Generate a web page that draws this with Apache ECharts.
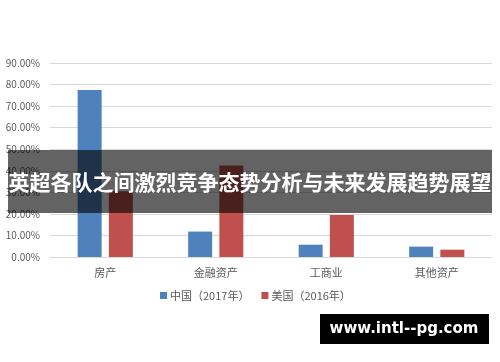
<!DOCTYPE html>
<html><head><meta charset="utf-8">
<script src="https://cdn.jsdelivr.net/npm/echarts@6/dist/echarts.min.js"></script>
<style>html,body{margin:0;padding:0;background:#fff}#c{width:500px;height:362px}</style>
</head><body><div id="c"></div>
<script>
const categories = ['房产', '金融资产', '工商业', '其他资产'];
const seriesNames = ['中国（2017年）', '美国（2016年）'];
const chinaValues = [0.775, 0.118, 0.057, 0.048];
const usValues = [0.305, 0.425, 0.195, 0.034];
const titleText = '英超各队之间激烈竞争态势分析与未来发展趋势展望';
const watermarkText = 'www.intl--pg.com';

const chart = echarts.init(document.getElementById('c'));
const font = '"Noto Sans CJK SC", "Noto Sans", sans-serif';
chart.setOption({
  animation: false,
  textStyle: { fontFamily: font },
  grid: { left: 50, right: 8, top: 63, bottom: 105, containLabel: false },
  legend: {
    top: 290, left: 160, padding: 0, itemWidth: 7, itemHeight: 7, itemGap: 12,
    icon: 'rect',
    textStyle: { fontSize: 11, color: '#595959', fontFamily: font, padding: [0, 0, 0, -2] },
    data: seriesNames
  },
  xAxis: {
    type: 'category', data: categories,
    axisLine: { lineStyle: { color: '#d9d9d9' } },
    axisTick: { show: false },
    axisLabel: { fontSize: 11, color: '#595959', margin: 10 }
  },
  yAxis: {
    type: 'value', min: 0, max: 0.9, interval: 0.1,
    axisLine: { show: false }, axisTick: { show: false },
    splitLine: { lineStyle: { color: '#d9d9d9', width: 1 } },
    axisLabel: { fontSize: 10, color: '#595959', margin: 10,
      formatter: v => (v * 100).toFixed(2) + '%' }
  },
  series: [
    { name: seriesNames[0], type: 'bar', data: chinaValues, barWidth: 24, barGap: '30%',
      itemStyle: { color: '#4f81bd' } },
    { name: seriesNames[1], type: 'bar', data: usValues, barWidth: 24,
      itemStyle: { color: '#c0504d' } }
  ],
  graphic: [
    { type: 'rect', z: 100, shape: { x: 8, y: 150, width: 484, height: 63 },
      style: { fill: 'rgba(0,0,0,0.61)' } },
    { type: 'text', z: 101, x: 250, y: 182,
      style: { text: titleText, fill: '#fff', font: 'bold 21px ' + font,
        align: 'center', verticalAlign: 'middle' } },
    { type: 'rect', z: 100, shape: { x: 320, y: 314, width: 169, height: 30 },
      style: { fill: '#000' } },
    { type: 'text', z: 101, x: 404, y: 329,
      style: { text: watermarkText, fill: '#fff', font: 'bold 15px "DejaVu Sans", sans-serif',
        align: 'center', verticalAlign: 'middle' } }
  ]
});
</script></body></html>
